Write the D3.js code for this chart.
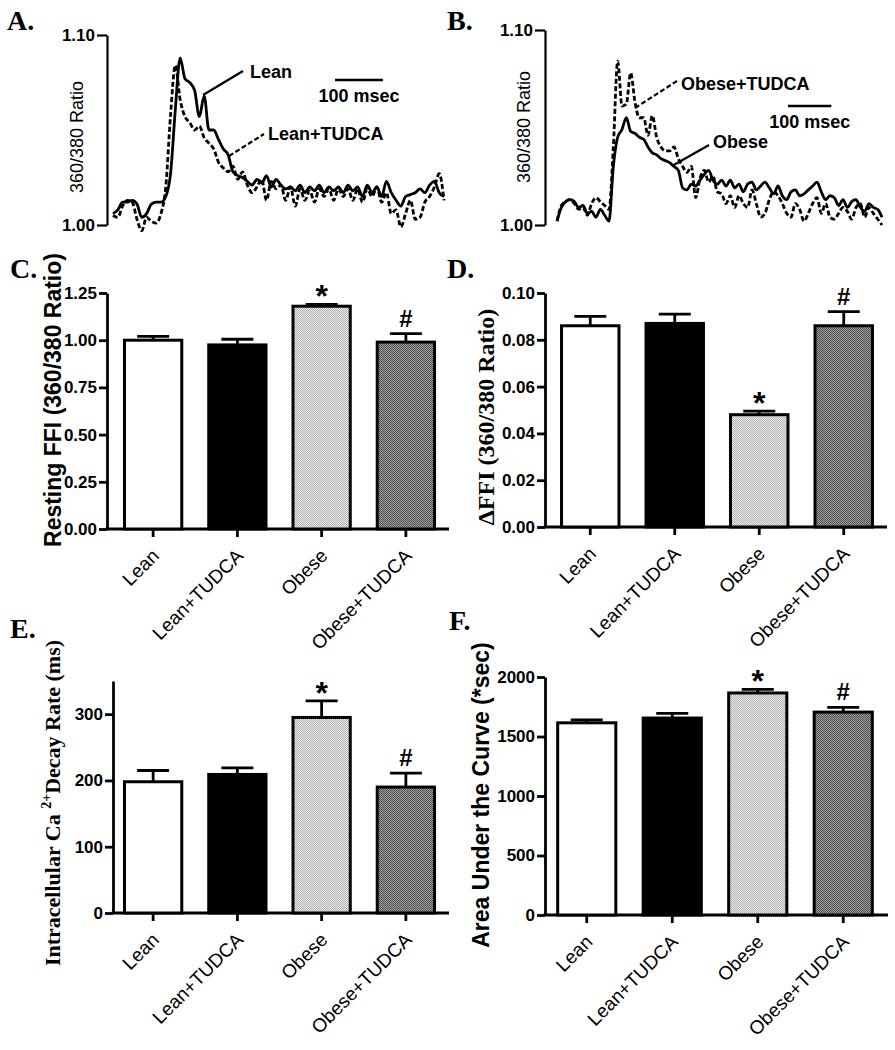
<!DOCTYPE html>
<html><head><meta charset="utf-8">
<script src="https://cdn.jsdelivr.net/npm/d3@7"></script>
<style>body{margin:0;background:#fff} svg{display:block}</style>
</head><body><svg id="c" width="895" height="1050"></svg>
<script>
// ---------- DATA ----------
const categories = ["Lean", "Lean+TUDCA", "Obese", "Obese+TUDCA"];

const restingFFI    = [1.00, 0.975, 1.18, 0.99];
const restingFFIErr = [0.02, 0.03, 0.01, 0.045];
const deltaFFI      = [0.086, 0.087, 0.048, 0.086];
const deltaFFIErr   = [0.004, 0.004, 0.0015, 0.006];
const decayRate     = [198, 209, 295, 190];
const decayRateErr  = [17, 10, 25, 21];
const aucValues     = [1615, 1655, 1866, 1705];
const aucErr        = [25, 40, 30, 40];
const marksC = ["", "", "*", "#"];
const marksD = ["", "", "*", "#"];
const marksE = ["", "", "*", "#"];
const marksF = ["", "", "*", "#"];

const ticksC = [0, 0.25, 0.5, 0.75, 1.0, 1.25];
const ticksD = [0, 0.02, 0.04, 0.06, 0.08, 0.10];
const ticksE = [0, 100, 200, 300];
const ticksF = [0, 500, 1000, 1500, 2000];
const ticksTrace = [1.00, 1.10];

// Panel A traces (time in ms, ratio)
const timeA = [0,10,20,30,40,50,60,70,80,90,100,110,120,130,140,150,160,170,180,190,200,210,220,230,240,250,260,270,280,290,300,310,320,330,340,350,360,370,380,390,400,410,420,430,440,450,460,470,480,490,500,510,520,530,540,550,560,570,580,590,600,610,620,630,640,650,660,670,680,690];
const leanTrace = [
 1.006,1.008,1.012,1.012,1.013,1.011,1.004,1.006,1.011,1.012,
 1.012,1.015,1.027,1.061,1.088,1.077,1.075,1.071,1.057,1.068,
 1.050,1.050,1.045,1.040,1.037,1.028,1.026,1.025,1.023,1.021,
 1.024,1.022,1.026,1.020,1.024,1.021,1.019,1.020,1.018,1.021,
 1.017,1.020,1.018,1.021,1.017,1.020,1.018,1.020,1.017,1.021,
 1.018,1.020,1.015,1.021,1.017,1.020,1.015,1.023,1.017,1.013,
 1.010,1.015,1.016,1.017,1.019,1.017,1.021,1.023,1.017,1.015];
const leanTudcaTrace = [
 1.005,1.004,1.010,1.013,1.012,1.003,0.997,1.004,1.002,1.001,
 1.006,1.020,1.058,1.084,1.066,1.057,1.054,1.050,1.052,1.046,
 1.043,1.040,1.033,1.030,1.028,1.031,1.024,1.028,1.021,1.017,
 1.020,1.024,1.013,1.023,1.019,1.021,1.013,1.020,1.010,1.019,
 1.013,1.018,1.012,1.019,1.015,1.019,1.013,1.019,1.015,1.019,
 1.013,1.019,1.012,1.019,1.015,1.020,1.012,1.017,1.006,1.008,
 0.999,1.006,1.013,1.003,1.004,1.012,1.015,1.020,1.027,1.013];

// Panel B traces
const timeB = [0,10,20,30,40,50,60,70,80,90,100,110,120,130,140,150,160,170,180,190,200,210,220,230,240,250,260,270,280,290,300,310,320,330,340,350,360,370,380,390,400,410,420,430,440,450,460,470,480,490,500,510,520,530,540,550,560,570,580,590,600,610,620,630,640,650,660,670,680,690,700,710,720,730,740,750];
const obeseTrace = [
 1.002,1.009,1.012,1.013,1.012,1.009,1.010,1.006,1.007,1.004,
 1.008,1.005,1.002,1.030,1.045,1.049,1.055,1.048,1.047,1.045,
 1.044,1.040,1.037,1.036,1.034,1.033,1.032,1.030,1.028,1.019,
 1.018,1.021,1.020,1.023,1.026,1.028,1.023,1.021,1.023,1.020,
 1.023,1.019,1.021,1.017,1.021,1.022,1.018,1.020,1.022,1.019,
 1.016,1.020,1.015,1.013,1.017,1.018,1.015,1.016,1.018,1.020,
 1.022,1.017,1.013,1.015,1.014,1.010,1.013,1.009,1.012,1.013,
 1.009,1.007,1.011,1.009,1.008,1.004];
const obeseTudcaTrace = [
 1.002,1.010,1.012,1.013,1.011,1.008,1.009,1.005,1.011,1.014,
 1.012,1.010,1.008,1.040,1.084,1.061,1.062,1.078,1.063,1.055,
 1.055,1.046,1.056,1.045,1.040,1.038,1.038,1.040,1.034,1.030,
 1.027,1.030,1.014,1.024,1.028,1.022,1.025,1.017,1.016,1.011,
 1.015,1.009,1.015,1.011,1.009,1.018,1.011,1.004,1.006,1.013,
 1.017,1.015,1.011,1.006,1.004,1.011,1.008,1.002,1.006,1.011,
 1.014,1.006,1.011,1.004,1.003,1.006,1.009,1.007,1.003,1.009,
 1.011,1.004,1.009,1.006,1.003,1.000];

// ---------- DRAW ----------
const SANS = "'Liberation Sans', Arial, sans-serif";
const SERIF = "'Liberation Serif', 'Times New Roman', serif";
const svg = d3.select("#c");
const defs = svg.append("defs");
function checker(id, bg, fg) {
  const p = defs.append("pattern").attr("id", id).attr("width", 2).attr("height", 2)
    .attr("patternUnits", "userSpaceOnUse");
  p.append("rect").attr("width", 2).attr("height", 2).attr("fill", bg);
  p.append("rect").attr("width", 1).attr("height", 1).attr("fill", fg);
  p.append("rect").attr("x", 1).attr("y", 1).attr("width", 1).attr("height", 1).attr("fill", fg);
}
checker("patLight", "#ececec", "#b0b0b0");
checker("patDark", "#a2a2a2", "#4c4c4c");
const fills = ["#ffffff", "#000000", "url(#patLight)", "url(#patDark)"];

function panelLetter(txt, x, y) {
  svg.append("text").attr("x", x).attr("y", y).text(txt)
    .attr("font-family", SERIF).attr("font-weight", "bold").attr("font-size", 28);
}
function styleAxis(g, fs) {
  g.selectAll("path,line").attr("stroke", "#000").attr("stroke-width", 2.8);
  g.selectAll("text").attr("font-family", SANS).attr("font-weight", "bold")
    .attr("font-size", fs).attr("fill", "#000");
}

function tracePanel(cfg) {
  const x = d3.scaleLinear().domain([0, cfg.tMax]).range(cfg.xRange);
  const y = d3.scaleLinear().domain([1.0, 1.10]).range(cfg.yRange);
  const ax = svg.append("g").attr("transform", `translate(${cfg.axisX},0)`)
    .call(d3.axisLeft(y).tickValues(ticksTrace).tickFormat(d3.format(".2f")).tickSize(10).tickSizeOuter(0).tickPadding(2));
  styleAxis(ax, 17);
  ax.select(".domain").attr("stroke-width", 2.2);
  ax.selectAll(".tick line").attr("stroke-width", 2.2);
  svg.append("text").attr("transform", `translate(${cfg.ylabX},${cfg.ylabY}) rotate(-90)`)
    .attr("text-anchor", "middle").attr("font-family", SANS).attr("font-size", 18).text("360/380 Ratio");
  const line = d3.line().x((d, i) => x(cfg.times[i])).y(d => y(d)).curve(d3.curveMonotoneX);
  svg.append("path").datum(cfg.dashed).attr("d", line).attr("fill", "none")
    .attr("stroke", "#000").attr("stroke-width", 2.8).attr("stroke-dasharray", "5,2.5");
  svg.append("path").datum(cfg.solid).attr("d", line).attr("fill", "none")
    .attr("stroke", "#000").attr("stroke-width", 2.8);
  // scale bar 100 ms
  const barLen = x(100) - x(0);
  svg.append("line").attr("x1", cfg.sb[0]).attr("x2", cfg.sb[0] + barLen)
    .attr("y1", cfg.sb[1]).attr("y2", cfg.sb[1]).attr("stroke", "#000").attr("stroke-width", 2.6);
  svg.append("text").attr("x", cfg.sb[0] + barLen / 2).attr("y", cfg.sb[1] + 22)
    .attr("text-anchor", "middle").attr("font-family", SANS).attr("font-weight", "bold")
    .attr("font-size", 18).text("100 msec");
  cfg.notes.forEach(n => {
    svg.append("line").attr("x1", n.l[0]).attr("y1", n.l[1]).attr("x2", n.l[2]).attr("y2", n.l[3])
      .attr("stroke", "#000").attr("stroke-width", 2.2).attr("stroke-dasharray", n.dash ? "5,2.5" : null);
    svg.append("text").attr("x", n.t[0]).attr("y", n.t[1]).text(n.text)
      .attr("font-family", SANS).attr("font-weight", "bold").attr("font-size", 18);
  });
}

tracePanel({
  tMax: 690, times: timeA, xRange: [113, 444], yRange: [225, 35], axisX: 107,
  ylabX: 83, ylabY: 137, solid: leanTrace, dashed: leanTudcaTrace, sb: [335, 80],
  notes: [
    { text: "Lean", t: [250, 78], l: [203, 95, 243, 71], dash: false },
    { text: "Lean+TUDCA", t: [268, 140], l: [229, 156, 264, 134], dash: true }
  ]
});
tracePanel({
  tMax: 750, times: timeB, xRange: [557, 882], yRange: [225, 30], axisX: 545,
  ylabX: 530, ylabY: 127, solid: obeseTrace, dashed: obeseTudcaTrace, sb: [788, 106],
  notes: [
    { text: "Obese+TUDCA", t: [681, 90], l: [635, 108, 677, 81], dash: true },
    { text: "Obese", t: [713, 148], l: [672, 166, 709, 145], dash: false }
  ]
});

function barPanel(cfg) {
  const y = d3.scaleLinear().domain(cfg.domain).range([cfg.y0, cfg.yTop]);
  const x = d3.scaleBand().domain(categories).range(cfg.xRange).paddingInner(0.32).paddingOuter(0.16);
  const ax = svg.append("g").attr("transform", `translate(${cfg.axisX},0)`)
    .call(d3.axisLeft(y).tickValues(cfg.ticks).tickFormat(cfg.fmt).tickSize(8).tickSizeOuter(0).tickPadding(2));
  styleAxis(ax, 17);
  // x axis
  const gx = svg.append("g");
  gx.append("line").attr("x1", cfg.axisX - 1.4).attr("x2", cfg.xEnd).attr("y1", cfg.y0).attr("y2", cfg.y0)
    .attr("stroke", "#000").attr("stroke-width", 2.8);
  categories.forEach((c, i) => {
    const cx = x(c) + x.bandwidth() / 2;
    gx.append("line").attr("x1", cx).attr("x2", cx).attr("y1", cfg.y0).attr("y2", cfg.y0 + 8)
      .attr("stroke", "#000").attr("stroke-width", 2.8);
    gx.append("text").attr("transform", `translate(${cx + 7},${cfg.y0 + 28}) rotate(-45)`)
      .attr("text-anchor", "end").attr("font-family", SANS).attr("font-size", 19).text(c);
  });
  // error bars
  cfg.values.forEach((v, i) => {
    const cx = x(categories[i]) + x.bandwidth() / 2;
    const top = y(v + cfg.errs[i]);
    svg.append("line").attr("x1", cx).attr("x2", cx).attr("y1", y(v)).attr("y2", top)
      .attr("stroke", "#000").attr("stroke-width", 2.8);
    svg.append("line").attr("x1", cx - 16).attr("x2", cx + 16).attr("y1", top).attr("y2", top)
      .attr("stroke", "#000").attr("stroke-width", 2.8);
    const m = cfg.marks[i];
    if (m === "*") {
      svg.append("text").attr("x", cx).attr("y", top + 3).attr("text-anchor", "middle")
        .attr("font-family", SANS).attr("font-weight", "bold").attr("font-size", 32).text(m);
    } else if (m === "#") {
      svg.append("text").attr("x", cx).attr("y", top - 7).attr("text-anchor", "middle")
        .attr("font-family", SANS).attr("font-weight", "bold").attr("font-size", 24).text(m);
    }
  });
  // bars
  svg.append("g").selectAll("rect").data(cfg.values).join("rect")
    .attr("x", (d, i) => x(categories[i])).attr("width", x.bandwidth())
    .attr("y", d => y(d)).attr("height", d => cfg.y0 - y(d))
    .attr("fill", (d, i) => fills[i]).attr("stroke", "#000").attr("stroke-width", 3);
  // y label
  const t = svg.append("text").attr("transform", `translate(${cfg.ylab[0]},${cfg.ylab[1]}) rotate(-90)`)
    .attr("text-anchor", "middle").attr("font-family", cfg.ylabFont).attr("font-weight", "bold")
    .attr("font-size", cfg.ylabSize);
  cfg.ylabBuild(t);
}

barPanel({
  domain: [0, 1.25], y0: 529, yTop: 293, axisX: 107, xRange: [111, 448], xEnd: 449,
  ticks: ticksC, fmt: d3.format(".2f"), values: restingFFI, errs: restingFFIErr, marks: marksC,
  ylab: [61, 400], ylabFont: SANS, ylabSize: 23,
  ylabBuild: t => t.text("Resting FFI (360/380 Ratio)")
});
barPanel({
  domain: [0, 0.10], y0: 527, yTop: 293, axisX: 545, xRange: [548, 886], xEnd: 887,
  ticks: ticksD, fmt: d3.format(".2f"), values: deltaFFI, errs: deltaFFIErr, marks: marksD,
  ylab: [494, 417], ylabFont: SERIF, ylabSize: 24,
  ylabBuild: t => t.text("\u0394FFI (360/380 Ratio)")
});
barPanel({
  domain: [0, 350], y0: 913, yTop: 681, axisX: 113, xRange: [111, 448], xEnd: 449,
  ticks: ticksE, fmt: d3.format("d"), values: decayRate, errs: decayRateErr, marks: marksE,
  ylab: [60, 803], ylabFont: SERIF, ylabSize: 22,
  ylabBuild: t => {
    t.append("tspan").text("Intracellular Ca ");
    t.append("tspan").attr("dy", -9).attr("font-size", 14).text("2+");
    t.append("tspan").attr("dy", 9).text("Decay Rate (ms)");
  }
});
barPanel({
  domain: [0, 2000], y0: 915, yTop: 677, axisX: 545, xRange: [544, 886], xEnd: 888,
  ticks: ticksF, fmt: d3.format("d"), values: aucValues, errs: aucErr, marks: marksF,
  ylab: [489, 795], ylabFont: SANS, ylabSize: 23,
  ylabBuild: t => t.text("Area Under the Curve (*sec)")
});

panelLetter("A.", 7, 30);
panelLetter("B.", 447, 30);
panelLetter("C.", 10, 278);
panelLetter("D.", 447, 278);
panelLetter("E.", 10, 638);
panelLetter("F.", 449, 630);
</script></body></html>
